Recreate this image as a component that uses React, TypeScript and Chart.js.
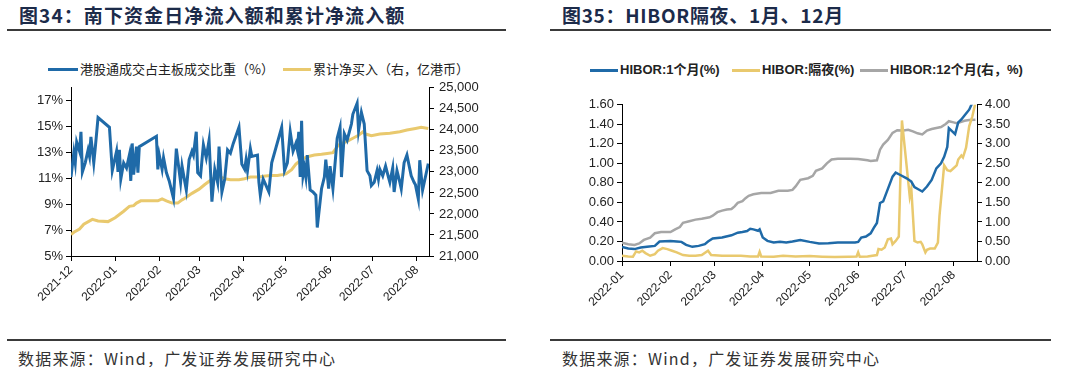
import React, { useEffect, useRef } from "react";
import { Chart, registerables } from "chart.js";

Chart.register(...registerables);

// ================= 图34 data =================
const shareDates = [
  "2021-12-01", "2021-12-03", "2021-12-04", "2021-12-05", "2021-12-07", "2021-12-08", "2021-12-09", "2021-12-11",
  "2021-12-13", "2021-12-14", "2021-12-15", "2021-12-17", "2021-12-18", "2021-12-20", "2021-12-28", "2021-12-30",
  "2022-01-02", "2022-01-03", "2022-01-04", "2022-01-05", "2022-01-07", "2022-01-09", "2022-01-11", "2022-01-12",
  "2022-01-13", "2022-01-14", "2022-01-16", "2022-01-17", "2022-01-18", "2022-01-30", "2022-01-31", "2022-02-01",
  "2022-02-03", "2022-02-04", "2022-02-06", "2022-02-08", "2022-02-11", "2022-02-13", "2022-02-16", "2022-02-17",
  "2022-02-19", "2022-02-20", "2022-02-22", "2022-02-24", "2022-02-25", "2022-02-27", "2022-02-28", "2022-03-02",
  "2022-03-04", "2022-03-06", "2022-03-08", "2022-03-10", "2022-03-12", "2022-03-14", "2022-03-15", "2022-03-17",
  "2022-03-19", "2022-03-21", "2022-03-23", "2022-03-25", "2022-03-29", "2022-03-31", "2022-04-02", "2022-04-03",
  "2022-04-04", "2022-04-06", "2022-04-07", "2022-04-11", "2022-04-12", "2022-04-13", "2022-04-15", "2022-04-19",
  "2022-04-21", "2022-04-28", "2022-04-30", "2022-05-02", "2022-05-04", "2022-05-06", "2022-05-08", "2022-05-09",
  "2022-05-10", "2022-05-11", "2022-05-12", "2022-05-13", "2022-05-14", "2022-05-15", "2022-05-16", "2022-05-18",
  "2022-05-20", "2022-05-22", "2022-05-23", "2022-05-26", "2022-05-28", "2022-05-29", "2022-05-31", "2022-06-01",
  "2022-06-03", "2022-06-05", "2022-06-06", "2022-06-08", "2022-06-09", "2022-06-11", "2022-06-13", "2022-06-16",
  "2022-06-17", "2022-06-20", "2022-06-21", "2022-06-23", "2022-06-25", "2022-06-27", "2022-06-29", "2022-06-30",
  "2022-07-02", "2022-07-04", "2022-07-05", "2022-07-06", "2022-07-08", "2022-07-10", "2022-07-12", "2022-07-13",
  "2022-07-15", "2022-07-16", "2022-07-18", "2022-07-20", "2022-07-21", "2022-07-23", "2022-07-25", "2022-07-28",
  "2022-07-30", "2022-07-31", "2022-08-02", "2022-08-03", "2022-08-05", "2022-08-06", "2022-08-09",
];
const shareValues = [
  11.1, 13.0, 12.2, 13.8, 13.1, 14.6, 11.5, 12.2,
  13.2, 12.7, 14.2, 12.2, 13.3, 15.7, 14.95, 11.6,
  13.1, 11.5, 13.2, 10.95, 12.2, 11.8, 12.8, 10.8,
  13.7, 11.3, 13.45, 11.45, 13.45, 14.25, 11.7, 12.8,
  11.7, 12.6, 11.45, 10.8, 9.45, 13.3, 10.7, 11.95,
  10.7, 10.1, 12.45, 13.1, 12.8, 14.6, 11.45, 11.2,
  13.6, 12.6, 13.95, 9.2, 11.7, 10.7, 13.45, 9.95,
  10.95, 13.2, 12.95, 13.7, 14.95, 12.1, 11.7, 12.45,
  11.6, 13.3, 12.7, 12.8, 10.7, 9.7, 10.95, 9.95,
  12.2, 14.95, 11.6, 12.2, 14.6, 13.1, 13.7, 13.2,
  14.6, 11.1, 15.45, 11.2, 11.8, 11.1, 12.8, 10.1,
  9.95, 9.7, 7.2, 10.2, 11.1, 12.45, 10.2, 11.95,
  10.2, 12.8, 14.1, 14.95, 11.1, 14.45, 13.95, 15.2,
  15.95, 16.8, 14.7, 16.1, 15.2, 11.6, 11.2, 10.45,
  10.7, 11.6, 10.95, 11.7, 11.2, 11.95, 11.1, 10.7,
  11.8, 9.95, 11.6, 10.7, 10.2, 12.2, 12.8, 11.2,
  10.7, 10.5, 9.4, 12.4, 10.1, 10.6, 12.15,
];
const cumDates = [
  "2021-12-01", "2021-12-03", "2021-12-07", "2021-12-10", "2021-12-16", "2021-12-20", "2021-12-27", "2022-01-01",
  "2022-01-04", "2022-01-07", "2022-01-11", "2022-01-14", "2022-01-16", "2022-01-19", "2022-01-25", "2022-01-31",
  "2022-02-03", "2022-02-06", "2022-02-10", "2022-02-14", "2022-02-17", "2022-02-19", "2022-02-24", "2022-03-01",
  "2022-03-05", "2022-03-09", "2022-03-12", "2022-03-15", "2022-03-19", "2022-03-23", "2022-03-29", "2022-04-02",
  "2022-04-06", "2022-04-11", "2022-04-15", "2022-04-20", "2022-04-25", "2022-04-28", "2022-05-01", "2022-05-05",
  "2022-05-08", "2022-05-12", "2022-05-16", "2022-05-21", "2022-05-26", "2022-05-30", "2022-06-03", "2022-06-06",
  "2022-06-08", "2022-06-13", "2022-06-17", "2022-06-21", "2022-06-24", "2022-06-26", "2022-06-30", "2022-07-06",
  "2022-07-13", "2022-07-20", "2022-07-25", "2022-07-31", "2022-08-04", "2022-08-09",
];
const cumValues = [
  21510, 21564, 21640, 21757, 21872, 21834, 21818, 21911,
  21988, 22065, 22181, 22197, 22258, 22312, 22312, 22312,
  22359, 22312, 22258, 22258, 22335, 22374, 22490, 22590,
  22700, 22799, 22861, 22891, 22837, 22814, 22814, 22837,
  22876, 22876, 22899, 22915, 22915, 22930, 22953, 23053,
  23185, 23300, 23360, 23400, 23420, 23440, 23458, 23600,
  23660, 23728, 23800, 23870, 23950, 23900, 23860, 23900,
  23918, 23957, 23995, 24034, 24060, 24030,
];
const fig34Months = ["2021-12", "2022-01", "2022-02", "2022-03", "2022-04", "2022-05", "2022-06", "2022-07", "2022-08"];
const fig34LeftTicks = [5, 7, 9, 11, 13, 15, 17];

// ================= 图35 data =================
const hibor1mDates = [
  "2022-01-01", "2022-01-05", "2022-01-09", "2022-01-13", "2022-01-17", "2022-01-22", "2022-01-25", "2022-02-01",
  "2022-02-05", "2022-02-08", "2022-02-11", "2022-02-15", "2022-02-19", "2022-02-23", "2022-02-25", "2022-02-28",
  "2022-03-06", "2022-03-12", "2022-03-16", "2022-03-19", "2022-03-22", "2022-03-24", "2022-03-26", "2022-03-29",
  "2022-03-30", "2022-04-01", "2022-04-04", "2022-04-08", "2022-04-12", "2022-04-16", "2022-04-20", "2022-04-25",
  "2022-05-01", "2022-05-07", "2022-05-13", "2022-05-19", "2022-05-26", "2022-05-30", "2022-06-01", "2022-06-03",
  "2022-06-06", "2022-06-09", "2022-06-11", "2022-06-13", "2022-06-15", "2022-06-17", "2022-06-19", "2022-06-21",
  "2022-06-23", "2022-06-25", "2022-06-28", "2022-07-02", "2022-07-05", "2022-07-07", "2022-07-10", "2022-07-12",
  "2022-07-15", "2022-07-18", "2022-07-21", "2022-07-24", "2022-07-26", "2022-07-28", "2022-07-29", "2022-07-31",
  "2022-08-02", "2022-08-03", "2022-08-04", "2022-08-06", "2022-08-08", "2022-08-11", "2022-08-13",
];
const hibor1mValues = [
  0.145, 0.128, 0.122, 0.138, 0.145, 0.155, 0.2, 0.206,
  0.2, 0.196, 0.165, 0.145, 0.155, 0.172, 0.2, 0.23,
  0.24, 0.263, 0.29, 0.297, 0.307, 0.33, 0.324, 0.31,
  0.324, 0.24, 0.206, 0.189, 0.196, 0.189, 0.199, 0.216,
  0.196, 0.179, 0.182, 0.189, 0.189, 0.189, 0.196, 0.24,
  0.25, 0.284, 0.34, 0.39, 0.594, 0.611, 0.695, 0.78,
  0.864, 0.905, 0.881, 0.847, 0.814, 0.756, 0.73, 0.712,
  0.763, 0.83, 0.949, 1.0, 1.067, 1.168, 1.36, 1.33,
  1.3, 1.36, 1.42, 1.45, 1.49, 1.55, 1.62,
];
const hiborOnDates = [
  "2022-01-01", "2022-01-05", "2022-01-08", "2022-01-10", "2022-01-12", "2022-01-14", "2022-01-16", "2022-01-19",
  "2022-01-22", "2022-01-24", "2022-01-27", "2022-01-30", "2022-02-02", "2022-02-05", "2022-02-09", "2022-02-13",
  "2022-02-17", "2022-02-21", "2022-02-25", "2022-02-27", "2022-03-06", "2022-03-12", "2022-03-18", "2022-03-24",
  "2022-03-29", "2022-03-30", "2022-03-31", "2022-04-08", "2022-04-14", "2022-04-22", "2022-05-01", "2022-05-09",
  "2022-05-17", "2022-05-26", "2022-05-31", "2022-06-01", "2022-06-02", "2022-06-07", "2022-06-13", "2022-06-14",
  "2022-06-16", "2022-06-18", "2022-06-20", "2022-06-22", "2022-06-23", "2022-06-25", "2022-06-27", "2022-06-29",
  "2022-07-01", "2022-07-04", "2022-07-05", "2022-07-07", "2022-07-09", "2022-07-11", "2022-07-12", "2022-07-14",
  "2022-07-15", "2022-07-17", "2022-07-20", "2022-07-22", "2022-07-23", "2022-07-26", "2022-07-28", "2022-07-30",
  "2022-08-01", "2022-08-03", "2022-08-04", "2022-08-06", "2022-08-07", "2022-08-09", "2022-08-11", "2022-08-13",
  "2022-08-15",
];
const hiborOnValues = [
  0.054, 0.047, 0.044, 0.098, 0.088, 0.105, 0.081, 0.054,
  0.071, 0.105, 0.132, 0.122, 0.105, 0.088, 0.061, 0.054,
  0.054, 0.061, 0.105, 0.061, 0.054, 0.054, 0.054, 0.047,
  0.047, 0.094, 0.047, 0.044, 0.054, 0.047, 0.05, 0.044,
  0.04, 0.044, 0.047, 0.088, 0.044, 0.047, 0.061, 0.122,
  0.115, 0.138, 0.223, 0.23, 0.172, 0.206, 0.25, 1.44,
  1.13, 0.66, 0.74, 0.206, 0.189, 0.196, 0.172, 0.088,
  0.115, 0.128, 0.128, 0.189, 0.46, 0.98, 0.93, 0.92,
  0.95, 0.98, 1.04, 1.08, 1.06, 1.16, 1.38, 1.48,
  1.62,
];
const hibor12mDates = [
  "2022-01-01", "2022-01-05", "2022-01-09", "2022-01-12", "2022-01-15", "2022-01-19", "2022-01-22", "2022-01-26",
  "2022-02-01", "2022-02-04", "2022-02-07", "2022-02-09", "2022-02-13", "2022-02-17", "2022-02-21", "2022-02-26",
  "2022-02-28", "2022-03-03", "2022-03-06", "2022-03-09", "2022-03-12", "2022-03-14", "2022-03-16", "2022-03-19",
  "2022-03-21", "2022-03-23", "2022-03-26", "2022-03-31", "2022-04-06", "2022-04-11", "2022-04-17", "2022-04-20",
  "2022-04-22", "2022-04-25", "2022-04-30", "2022-05-03", "2022-05-05", "2022-05-09", "2022-05-12", "2022-05-15",
  "2022-05-19", "2022-05-27", "2022-06-01", "2022-06-07", "2022-06-09", "2022-06-13", "2022-06-15", "2022-06-17",
  "2022-06-20", "2022-06-23", "2022-06-26", "2022-06-30", "2022-07-03", "2022-07-06", "2022-07-09", "2022-07-12",
  "2022-07-15", "2022-07-18", "2022-07-24", "2022-07-27", "2022-07-29", "2022-08-01", "2022-08-03", "2022-08-05",
  "2022-08-08", "2022-08-11", "2022-08-15",
];
const hibor12mValues = [
  0.47, 0.43, 0.41, 0.45, 0.54, 0.6, 0.71, 0.74,
  0.74, 0.81, 0.87, 0.98, 1.02, 1.06, 1.08, 1.12,
  1.16, 1.25, 1.29, 1.32, 1.33, 1.4, 1.49, 1.53,
  1.61, 1.67, 1.71, 1.74, 1.74, 1.8, 1.8, 1.82,
  1.91, 2.08, 2.12, 2.18, 2.31, 2.37, 2.5, 2.6,
  2.62, 2.62, 2.61, 2.58, 2.56, 2.58, 2.85, 2.98,
  3.1, 3.28, 3.35, 3.34, 3.36, 3.32, 3.27, 3.24,
  3.34, 3.38, 3.43, 3.51, 3.58, 3.55, 3.53, 3.55,
  3.59, 3.61, 3.62,
];
const fig35Months = ["2022-01", "2022-02", "2022-03", "2022-04", "2022-05", "2022-06", "2022-07", "2022-08"];

// ================= styles =================
const BLUE = "#1f6aa8";
const GOLD = "#e9c96e";
const GRAY = "#a6a6a6";
const AXIS = "#000000";
const TICK_FONT = "'Liberation Sans', Arial, sans-serif";
const CJK_FONT = "'Noto Sans CJK SC', 'Liberation Sans', sans-serif";
const BOLD_MIX_FONT = "'Liberation Sans', Arial, 'Noto Sans CJK SC', sans-serif";

const DAY_MS = 86400000;
const toDay = (iso: string, base: string) => (Date.parse(iso) - Date.parse(base)) / DAY_MS;

function series(dates: string[], values: number[], base: string) {
  return dates.map((d, i) => ({ x: toDay(d, base), y: values[i] }));
}

function axisCommon(extra: any) {
  return {
    grid: { display: true, drawOnChartArea: false, drawTicks: true, tickLength: 5, color: AXIS, lineWidth: 1 },
    border: { display: true, color: AXIS, width: 1 },
    ...extra,
  };
}

function xAxis(months: string[], base: string, max: number) {
  const tickDays = months.map((m) => toDay(m + "-01", base));
  return axisCommon({
    type: "linear",
    min: 0,
    max,
    afterBuildTicks: (s: any) => {
      s.ticks = tickDays.map((v) => ({ value: v }));
    },
    afterFit: (s: any) => {
      s.height = 60;
    },
    ticks: {
      autoSkip: false,
      minRotation: 45,
      maxRotation: 45,
      padding: 2,
      color: "#222",
      font: { family: TICK_FONT, size: 12 },
      callback: (v: number) => {
        const i = tickDays.indexOf(v);
        return i >= 0 ? months[i] : "";
      },
    },
  });
}

function fig34Config(): any {
  const base = "2021-12-01";
  return {
    type: "line",
    data: {
      datasets: [
        {
          label: "港股通成交占主板成交比重（%）",
          data: series(shareDates, shareValues, base),
          borderColor: BLUE,
          borderWidth: 3,
          pointRadius: 0,
          tension: 0,
          yAxisID: "y",
        },
        {
          label: "累计净买入（右，亿港币）",
          data: series(cumDates, cumValues, base),
          borderColor: GOLD,
          borderWidth: 3,
          pointRadius: 0,
          tension: 0,
          yAxisID: "y1",
        },
      ],
    },
    options: {
      responsive: false,
      animation: false,
      events: [],
      layout: { padding: { top: 8, left: 0, right: 0, bottom: 0 } },
      plugins: { legend: { display: false }, tooltip: { enabled: false } },
      scales: {
        x: xAxis(fig34Months, base, toDay("2022-08-09", base) + 0.5),
        y: axisCommon({
          position: "left",
          min: 5,
          max: 18,
          afterBuildTicks: (s: any) => {
            s.ticks = fig34LeftTicks.map((v) => ({ value: v }));
          },
          afterFit: (s: any) => {
            s.width = 71;
          },
          ticks: { color: "#222", padding: 3, font: { family: TICK_FONT, size: 13 }, callback: (v: number) => v + "%" },
        }),
        y1: axisCommon({
          position: "right",
          min: 21000,
          max: 25000,
          afterFit: (s: any) => {
            s.width = 111;
          },
          ticks: {
            stepSize: 500,
            color: "#222",
            padding: 5,
            font: { family: TICK_FONT, size: 13 },
            callback: (v: number) => v.toLocaleString("en-US"),
          },
        }),
      },
    },
  };
}

function fig35Config(): any {
  const base = "2022-01-01";
  return {
    type: "line",
    data: {
      datasets: [
        {
          label: "HIBOR:1个月(%)",
          data: series(hibor1mDates, hibor1mValues, base),
          borderColor: BLUE,
          borderWidth: 2.5,
          pointRadius: 0,
          tension: 0,
          yAxisID: "y",
        },
        {
          label: "HIBOR:隔夜(%)",
          data: series(hiborOnDates, hiborOnValues, base),
          borderColor: GOLD,
          borderWidth: 2.5,
          pointRadius: 0,
          tension: 0,
          yAxisID: "y",
        },
        {
          label: "HIBOR:12个月(右，%)",
          data: series(hibor12mDates, hibor12mValues, base),
          borderColor: GRAY,
          borderWidth: 2.5,
          pointRadius: 0,
          tension: 0,
          yAxisID: "y1",
        },
      ],
    },
    options: {
      responsive: false,
      animation: false,
      events: [],
      layout: { padding: { top: 8, left: 0, right: 0, bottom: 0 } },
      plugins: { legend: { display: false }, tooltip: { enabled: false } },
      scales: {
        x: xAxis(fig35Months, base, toDay("2022-08-16", base)),
        y: axisCommon({
          position: "left",
          min: 0,
          max: 1.6,
          afterFit: (s: any) => {
            s.width = 82;
          },
          ticks: {
            stepSize: 0.2,
            color: "#222",
            padding: 3,
            font: { family: TICK_FONT, size: 13 },
            callback: (v: number) => v.toFixed(2),
          },
        }),
        y1: axisCommon({
          position: "right",
          min: 0,
          max: 4,
          afterFit: (s: any) => {
            s.width = 103;
          },
          ticks: {
            stepSize: 0.5,
            color: "#222",
            padding: 3,
            font: { family: TICK_FONT, size: 13 },
            callback: (v: number) => v.toFixed(2),
          },
        }),
      },
    },
  };
}

function ChartCanvas({ make, left, top, width, height }: any) {
  const ref = useRef<HTMLCanvasElement>(null);
  useEffect(() => {
    const chart = new Chart(ref.current as HTMLCanvasElement, make());
    return () => chart.destroy();
  }, []);
  return (
    <canvas
      ref={ref}
      width={width}
      height={height}
      style={{ position: "absolute", left, top, width, height, display: "block" }}
    />
  );
}

function Rule({ x1, x2, y, w }: any) {
  return <div style={{ position: "absolute", left: x1, top: y - w / 2, width: x2 - x1, height: w, background: "#3a3a3a" }} />;
}

function LegendItem({ x, y, color, text, bold, w }: any) {
  return (
    <>
      <div style={{ position: "absolute", left: x, top: y - 1.5, width: w, height: 3, background: color }} />
      <div
        style={{
          position: "absolute",
          left: x + w + 2,
          top: y - 10,
          height: 20,
          lineHeight: "20px",
          whiteSpace: "nowrap",
          fontFamily: bold ? BOLD_MIX_FONT : CJK_FONT,
          fontWeight: bold ? 700 : 400,
          fontSize: 13,
          color: "#222",
        }}
      >
        {text}
      </div>
    </>
  );
}

function Text({ x, y, size, bold, spacing, children }: any) {
  return (
    <div
      style={{
        position: "absolute",
        left: x,
        top: y - size * 0.75,
        lineHeight: size * 1.5 + "px",
        fontSize: size,
        fontWeight: bold ? 700 : 400,
        letterSpacing: spacing || 0,
        fontFamily: CJK_FONT,
        color: bold ? "#1c2b4a" : "#333",
        whiteSpace: "nowrap",
      }}
    >
      {children}
    </div>
  );
}

export default function App() {
  return (
    <div style={{ position: "absolute", left: 0, top: 0, width: 1080, height: 374, background: "#fff", overflow: "hidden" }}>
      {/* 图34 */}
      <Text x={19} y={15} size={19} bold spacing={1.1}>
        图34：南下资金日净流入额和累计净流入额
      </Text>
      <Rule x1={7} x2={506} y={30} w={2} />
      <LegendItem x={48} y={69} w={30} color={BLUE} text="港股通成交占主板成交比重（%）" />
      <LegendItem x={283} y={69} w={28} color={GOLD} text="累计净买入（右，亿港币）" />
      <ChartCanvas make={fig34Config} left={0} top={75} width={540} height={241} />
      <Rule x1={7} x2={506} y={340} w={1.5} />
      <Text x={18} y={358} size={16} spacing={1.2}>
        数据来源：Wind，广发证券发展研究中心
      </Text>

      {/* 图35 */}
      <Text x={562} y={15} size={19} bold spacing={0.7}>
        图35：HIBOR隔夜、1月、12月
      </Text>
      <Rule x1={550} x2={1051} y={30} w={2} />
      <LegendItem x={590} y={70} w={28} color={BLUE} text="HIBOR:1个月(%)" bold />
      <LegendItem x={732} y={70} w={28} color={GOLD} text="HIBOR:隔夜(%)" bold />
      <LegendItem x={860} y={70} w={28} color={GRAY} text="HIBOR:12个月(右，%)" bold />
      <ChartCanvas make={fig35Config} left={540} top={94} width={540} height={227} />
      <Rule x1={550} x2={1051} y={340} w={1.5} />
      <Text x={562} y={358} size={16} spacing={1.2}>
        数据来源：Wind，广发证券发展研究中心
      </Text>
    </div>
  );
}
